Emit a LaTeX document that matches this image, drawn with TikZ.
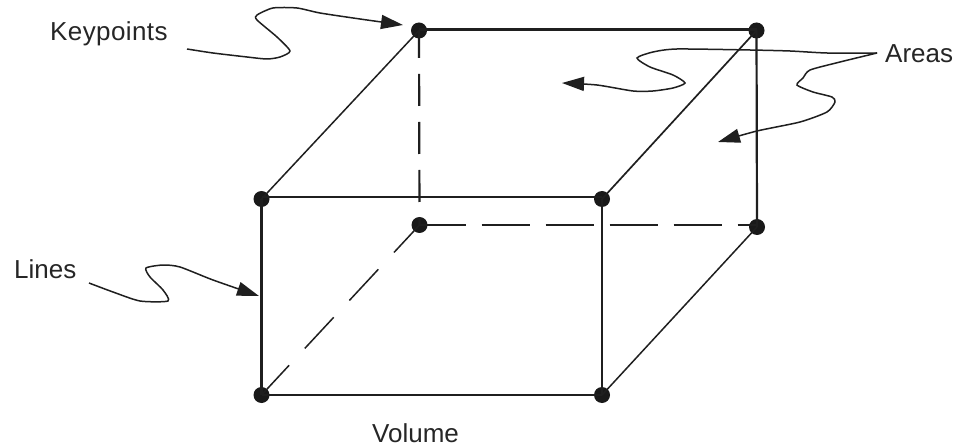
\documentclass[tikz,border=0pt]{standalone}
\usepackage{fontspec}
\setmainfont{Liberation Sans}
\usetikzlibrary{arrows.meta}
\tikzset{
  edge/.style={line width=2.2pt,black!88},
  thinedge/.style={line width=1.5pt,black!88},
  kp/.style={circle,fill=black!90,inner sep=0pt,minimum size=16pt},
  squiggle/.style={line width=1.5pt,black!88,-{Triangle[length=22pt,width=14pt]}},
  lbl/.style={font=\fontsize{26}{28}\selectfont,text=black!85,inner sep=0pt,anchor=base west}
}
\begin{document}
\begin{tikzpicture}[x=1pt,y=-1pt]
\useasboundingbox (0,0) rectangle (960,446);
\fill[white] (0,0) rectangle (960,446);
\node[kp] (nA) at (419,30.5) {};
\node[kp] (nB) at (756.5,30.5) {};
\node[kp] (nC) at (261.5,199) {};
\node[kp] (nD) at (602,199) {};
\node[kp] (nE) at (419.5,225) {};
\node[kp] (nF) at (757,227) {};
\node[kp] (nG) at (261.5,395) {};
\node[kp] (nH) at (602,395) {};
\draw[edge] ([yshift=1pt]nA.center)--([yshift=1pt]nB.center);
\draw[edge] ([yshift=2pt]nC.center)--([yshift=2pt]nD.center);
\draw[edge] (nG.center)--(nH.center);
\draw[edge] (nC.center)--(nG.center);
\draw[edge] (nD.center)--(nH.center);
\draw[edge] (nB.center)--(nF.center);
\draw[thinedge] (nA.center)--(nC.center);
\draw[thinedge,line width=1.7pt] (nB.center)--(nD.center);
\draw[thinedge] (nF.center)--(nH.center);
\draw[edge,dash pattern=on 32pt off 16pt,dash phase=4.5pt] (nA.center)--(nE.center);
\draw[edge,dash pattern=on 48pt off 16pt,dash phase=2pt] (nE.center)--(nE.center -| nF.center);
\draw[thinedge,dash pattern=on 42.5pt off 23pt,dash phase=5pt] (nE.center)--(nG.center);
\node[lbl] (keypoints) at (50,41) {K\kern0.4pt e\kern0.4pt y\kern0.4pt p\kern0.4pt o\kern0.4pt i\kern0.4pt n\kern0.4pt t\kern0.4pt s};
\node[lbl] (areas) at (885,63) {Areas};
\node[lbl] (lines) at (14,278) {Lines};
\node[lbl] (volume) at (372,442) {Volume};
\coordinate (k0) at (187,49);
\coordinate (a0) at (877,53);
\coordinate (l0) at (89,283);
\draw[squiggle] plot[smooth,tension=0.4] coordinates {(k0)(213,53)(247,57)(267,59)(280,57)(290,51)(277,37)(257,20)(257,15)(273,8)(297,8)(320,13)(360,19)(403,25)};
\draw[squiggle] plot[smooth,tension=0.4] coordinates {(a0)(827,53)(790,51)(750,50)(677,49)(653,52)(637,58)(650,67)(673,75)(685,83)(673,88)(653,91)(633,91)(597,85)(562,83)};
\draw[squiggle] plot[smooth,tension=0.4] coordinates {(a0)(840,62)(810,70)(803,78)(797,85)(813,92)(832,97)(835,102)(827,112)(800,122)(757,131)(718,142)};
\draw[squiggle] plot[smooth,tension=0.4] coordinates {(l0)(113,292)(140,301)(168,301)(163,290)(150,277)(146,268)(163,265)(180,267)(213,280)(259,296)};
\end{tikzpicture}
\end{document}
